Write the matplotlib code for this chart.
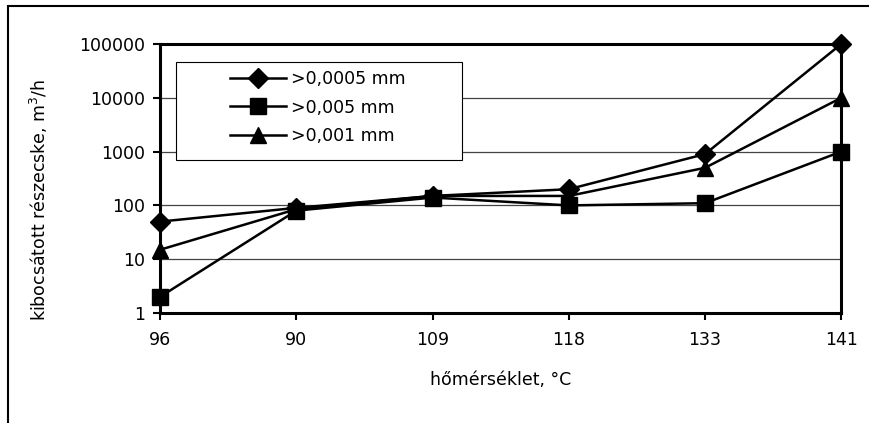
import matplotlib
matplotlib.use("Agg")
import matplotlib.pyplot as plt
import matplotlib.patches as patches

plt.rcParams['font.family'] = ['DejaVu Sans']

# data
temps = ["96", "90", "109", "118", "133", "141"]
series_names = [">0,0005 mm", ">0,005 mm", ">0,001 mm"]
d0005 = [50, 90, 150, 200, 900, 100000]
d005 = [2, 80, 140, 100, 110, 1000]
d001 = [15, 85, 150, 150, 500, 10000]
markers = ["D", "s", "^"]
msizes = [10, 12, 12]

FS = 12.5

fig = plt.figure(figsize=(8.7, 4.23), dpi=100)
ax = fig.add_axes([0.184, 0.26, 0.783, 0.636])

# outer chart frame (only left/top visible in the reference)
frame = patches.Rectangle((8 / 870, -0.1), 1.2, 1 - 6 / 423 + 0.1, transform=fig.transFigure,
                          fill=False, edgecolor='black', linewidth=1.5)
fig.patches.append(frame)

x = list(range(len(temps)))
for vals, name, m, ms in zip([d0005, d005, d001], series_names, markers, msizes):
    ax.plot(x, vals, color='black', linewidth=1.8, marker=m, markersize=ms,
            markerfacecolor='black', markeredgecolor='black', label=name, clip_on=False, zorder=3)

ax.set_yscale('log')
ax.set_ylim(1, 100000)
ax.set_xlim(0, len(temps) - 1)
ax.set_yticks([1, 10, 100, 1000, 10000, 100000])
ax.set_yticklabels(["1", "10", "100", "1000", "10000", "100000"])
ax.minorticks_off()
ax.set_xticks(x)
ax.set_xticklabels(temps)
ax.yaxis.grid(True, color='#444444', linewidth=0.9)
ax.set_axisbelow(True)

for s in ax.spines.values():
    s.set_linewidth(2.2)
    s.set_color('black')
ax.tick_params(axis='both', labelsize=FS, length=5, width=1.5, direction='out')
ax.tick_params(axis='x', pad=8)
ax.tick_params(axis='y', pad=6)

ax.set_ylabel("kibocsátott részecske, m$^3$/h", fontsize=FS)
ax.yaxis.set_label_coords(-0.162, 0.42)
ax.set_xlabel("hőmérséklet, °C", fontsize=FS, labelpad=16)

# legend box drawn separately so its size matches the reference
box = patches.Rectangle((0.0235, 0.569), 0.42, 0.364, transform=ax.transAxes,
                        facecolor='white', edgecolor='black', linewidth=0.8, zorder=4)
ax.add_patch(box)
leg = ax.legend(loc='upper left', bbox_to_anchor=(0.1028, 0.903), fontsize=FS,
                frameon=False, borderpad=0, borderaxespad=0, labelspacing=0.6,
                handlelength=3.2, handletextpad=0.3)
leg.set_zorder(5)

fig.savefig("out.png", dpi=100)
